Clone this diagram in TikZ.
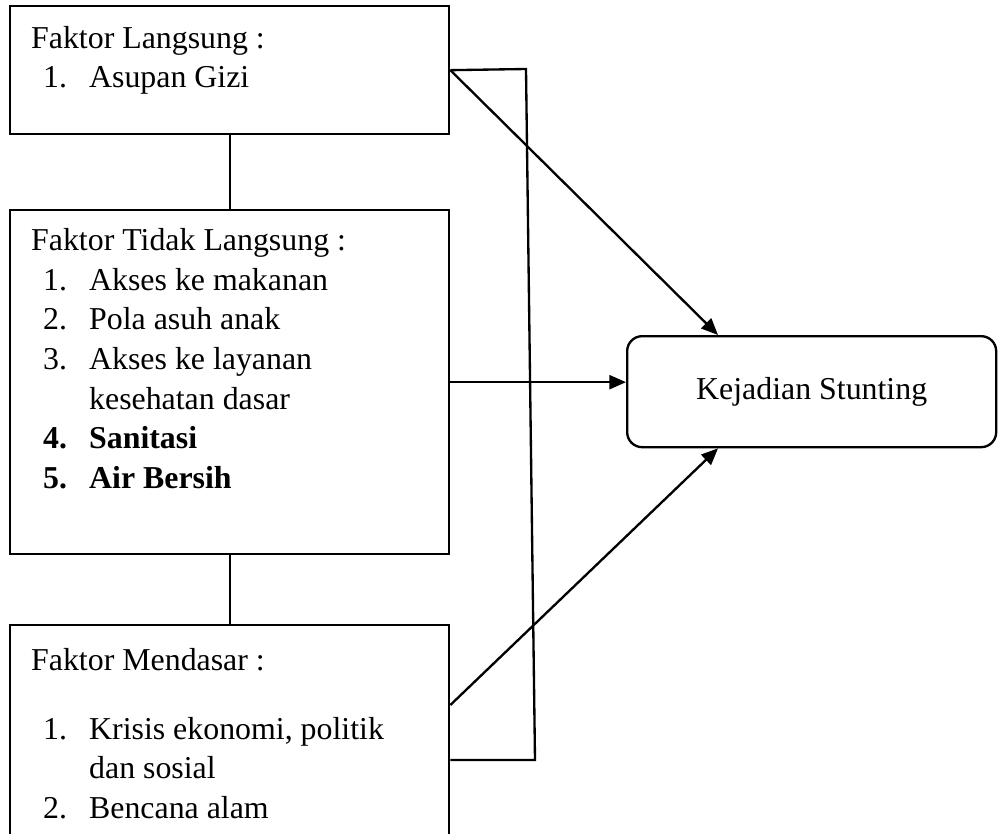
\documentclass[tikz,border=0pt]{standalone}
\usepackage{fontspec}
\setmainfont{Liberation Serif}
\usetikzlibrary{calc,arrows.meta}

\newcommand{\itm}[1]{\hspace*{0.36cm}\makebox[1.38cm][l]{#1}}
\newcommand{\hang}{\hspace*{1.74cm}}

\begin{document}
\begin{tikzpicture}[x=0.03cm,y=-0.03cm,line width=0.07cm]
    \tikzset{box/.style={draw,rectangle,anchor=north west,minimum width=13.17cm,inner sep=0pt},
      txt/.style={anchor=north west,align=left,inner sep=0pt,font=\fontsize{27.2}{33.9}\selectfont},
      arr/.style={-{Triangle[length=0.5cm,width=0.42cm]}}}
    \useasboundingbox (0,0) rectangle (998,834);
    \clip (0,0) rectangle (998,834);

    % boxes on the left
    \node[box,minimum height=3.84cm] (lang) at (9,5) {};
    \node[box,minimum height=10.32cm] (tidak) at (9,209) {};
    \node[box,minimum height=9cm] (dasar) at (9,624) {};
    \node[draw,rounded corners=0.45cm,anchor=north west,minimum width=11.07cm,minimum height=3.33cm,
      font=\fontsize{27.2}{33.9}\selectfont] (kej) at (626,335) {Kejadian Stunting};

    % texts
    \node[txt] (tlang) at (30,25) {Faktor Langsung :\\ \itm{1.}Asupan Gizi};
    \node[txt] (ttidak) at (30,227) {Faktor Tidak Langsung :\\
      \itm{1.}Akses ke makanan\\
      \itm{2.}Pola asuh anak\\
      \itm{3.}Akses ke layanan\\
      \hang kesehatan dasar\\
      \itm{\textbf{4.}}\textbf{Sanitasi}\\
      \itm{\textbf{5.}}\textbf{Air Bersih}};
    \node[txt] (tdasar) at (30,647) {Faktor Mendasar :\\[0.87cm]
      \itm{1.}Krisis ekonomi, politik\\
      \hang dan sosial\\
      \itm{2.}Bencana alam};

    % connectors
    \coordinate (d1) at ($(dasar.north east)+(0,81)$);
    \coordinate (d2) at ($(dasar.north east)+(0,136)$);
    \coordinate (k1) at ($(kej.north west)+(92,0)$);
    \coordinate (k2) at ($(kej.south west)+(92,0)$);
    \coordinate (b1) at (535,760);
    \coordinate (b2) at (526,69);

    \draw (lang.south) -- (tidak.north);
    \draw (tidak.south) -- (dasar.north);
    \draw[arr] (lang.east) -- (k1);
    \draw[arr] (tidak.east) -- (tidak.east -| kej.west);
    \draw[arr] (d1) -- (k2);
    \draw (d2) -- (b1) -- (b2) -- (lang.east);
\end{tikzpicture}
\end{document}
